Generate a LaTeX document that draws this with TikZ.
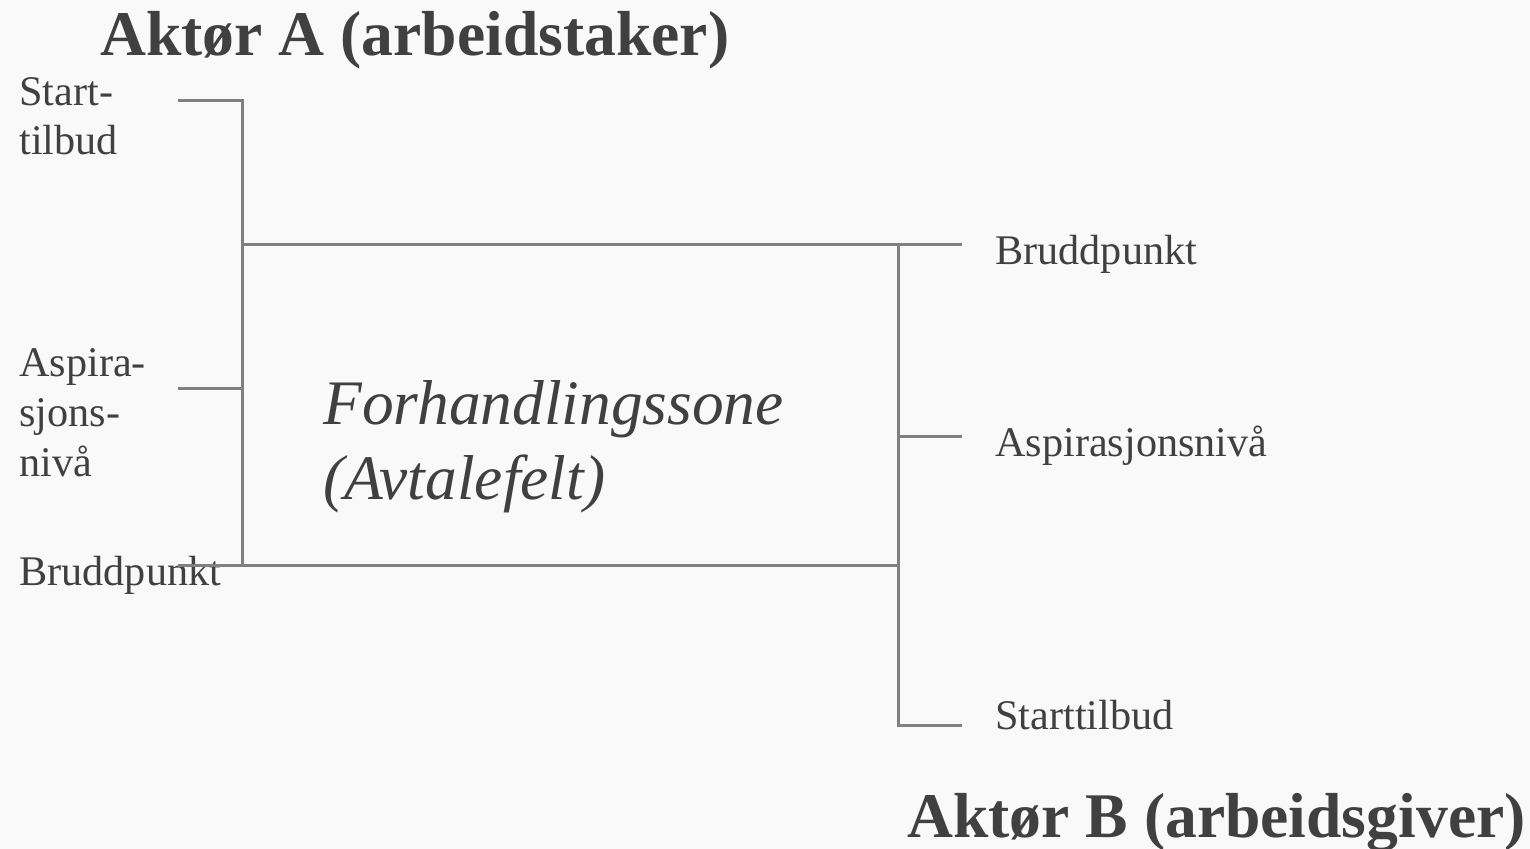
\documentclass[tikz,border=0pt]{standalone}
\usepackage{fontspec}
\setmainfont{Liberation Serif}
\definecolor{bg}{HTML}{F9F9F9}
\definecolor{txt}{HTML}{404040}
\definecolor{ln}{HTML}{808080}
\begin{document}
\begin{tikzpicture}[x=0.5pt,y=-0.5pt,
  lbl/.style={anchor=base west,inner sep=0pt,text=txt,font=\fontsize{21.1}{25}\selectfont},
  ttl/.style={anchor=base west,inner sep=0pt,text=txt,font=\bfseries\fontsize{31.8}{36}\selectfont},
  zone/.style={anchor=base west,inner sep=0pt,text=txt,font=\itshape\fontsize{31.7}{37}\selectfont},
  conn/.style={draw=ln,line width=1.5pt}]
\fill[bg] (0,0) rectangle (1530,849);
\useasboundingbox (0,0) rectangle (1530,849);
% titles
\node[ttl] (tA) at (100,56) {Aktør A (arbeidstaker)};
\node[ttl] (tB) at (907,837) {Aktør B (arbeidsgiver)};
% left labels
\node[lbl] (ls1) at (19,106) {Start-};
\node[lbl] (ls2) at (19,155) {tilbud};
\node[lbl] (la1) at (19,377) {Aspira-};
\node[lbl] (la2) at (19,427) {sjons-};
\node[lbl] (la3) at (19,477) {nivå};
\node[lbl] (lb) at (19,585) {Bruddpunkt};
% right labels
\node[lbl] (rb) at (995,265) {Bruddpunkt};
\node[lbl] (ra) at (995,457) {Aspirasjonsnivå};
\node[lbl] (rs) at (995,729) {Starttilbud};
% zone
\node[zone] (z1) at (323,425) {Forhandlingssone};
\node[zone] (z2) at (323,500) {(Avtalefelt)};
% coordinates
\coordinate (ls) at (178,101);
\coordinate (lt) at (242,101);
\coordinate (la) at (178,389);
\coordinate (lam) at (242,389);
\coordinate (lbot) at (242,565);
\coordinate (lbs) at (178,565);
\coordinate (tl) at (242,245);
\coordinate (tr) at (898,245);
\coordinate (te) at (962,245);
\coordinate (br) at (898,565);
\coordinate (ram) at (898,437);
\coordinate (rae) at (962,437);
\coordinate (rsb) at (898,725);
\coordinate (rse) at (962,725);
% left axis
\draw[conn] (ls) -- (lt) -- (lbot);
\draw[conn] (la) -- (lam);
% zone box
\draw[conn] (tl) -- (te);
\draw[conn] (lbs) -- (br);
% right axis
\draw[conn] (tr) -- (rsb) -- (rse);
\draw[conn] (ram) -- (rae);
\end{tikzpicture}
\end{document}
